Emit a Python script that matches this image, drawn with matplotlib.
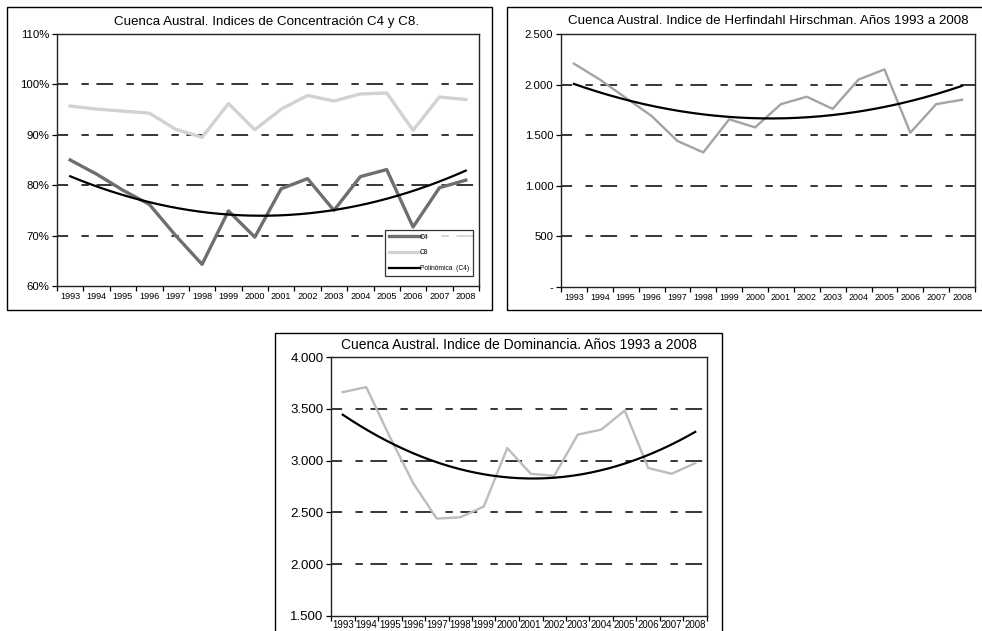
import numpy as np
import matplotlib
matplotlib.use("Agg")
import matplotlib.pyplot as plt
from matplotlib.patches import Rectangle
from matplotlib.ticker import FuncFormatter, FixedLocator

plt.rcParams['font.family'] = ['Liberation Sans', 'DejaVu Sans']
plt.rcParams['lines.scale_dashes'] = False

years = [str(y) for y in range(1993, 2009)]

# Concentration ratios (%)
c4 = [85.0, 82.2, 79.0, 76.2, 70.0, 64.3, 74.9, 69.7, 79.3, 81.3, 75.0, 81.7, 83.1, 71.7, 79.5, 81.0]
c8 = [95.7, 95.1, 94.7, 94.3, 91.1, 89.5, 96.2, 91.0, 95.1, 97.8, 96.7, 98.1, 98.3, 90.9, 97.5, 97.0]

# Herfindahl-Hirschman index
hhi = [2207, 2050, 1870, 1690, 1443, 1330, 1657, 1577, 1807, 1880, 1760, 2050, 2150, 1525, 1807, 1850]

# Dominance index
dom = [3661, 3709, 3230, 2782, 2440, 2453, 2556, 3121, 2873, 2853, 3251, 3299, 3483, 2928, 2873, 2976]

W, H = 982, 631
fig = plt.figure(figsize=(W / 100, H / 100), dpi=100)

GRID_STYLE = (4, (12, 9.6, 5.3, 5.5))


def box(x0, y0, x1, y1):
    """Axes rectangle from pixel coordinates (origin at top-left)."""
    return [x0 / W, (H - y1) / H, (x1 - x0) / W, (y1 - y0) / H]


def frame(x0, y0, x1, y1):
    r = Rectangle((x0 / W, (H - y1) / H), (x1 - x0) / W, (y1 - y0) / H,
                  transform=fig.transFigure, fill=False, edgecolor='black',
                  linewidth=1.0, zorder=0)
    fig.add_artist(r)


def trend(values, ax):
    x = np.arange(len(values))
    coefs = np.polyfit(x, values, 2)
    xf = np.linspace(0, len(values) - 1, 200)
    return ax.plot(xf, np.polyval(coefs, xf), color='black', linewidth=1.6,
                   zorder=4)[0]


def style_axes(ax, ymin, ymax, step, grid_vals, fmt, ylab_size, xlab_size):
    n = len(years)
    ax.set_xlim(-0.5, n - 0.5)
    ax.set_ylim(ymin, ymax)
    ax.set_xticks(np.arange(n))
    ax.set_xticklabels(years, fontsize=xlab_size)
    ax.xaxis.set_minor_locator(FixedLocator(np.arange(-0.5, n, 1.0)))
    ax.tick_params(axis='x', which='major', length=0, pad=4)
    ax.tick_params(axis='x', which='minor', length=3.5, width=0.9, direction='out')
    ax.set_yticks(np.arange(ymin, ymax + step / 2, step))
    ax.yaxis.set_major_formatter(FuncFormatter(fmt))
    ax.tick_params(axis='y', length=3.5, width=0.9, pad=2, labelsize=ylab_size)
    for s in ax.spines.values():
        s.set_color('#222222')
        s.set_linewidth(1.0)
    for g in grid_vals:
        ax.axhline(g, color='black', linewidth=1.1, linestyle=GRID_STYLE, zorder=1)


def thousands(v, _pos):
    if v == 0:
        return '-'
    return f"{int(round(v)):,}".replace(',', '.')


x = np.arange(len(years))

# --- Chart 1: C4 / C8 concentration ---
frame(7, 7, 492, 310)
ax1 = fig.add_axes(box(57, 34, 479, 286))
style_axes(ax1, 60, 110, 10, [70, 80, 90, 100],
           lambda v, p: f"{int(round(v))}%", 8.2, 6.6)
l_c4, = ax1.plot(x, c4, color='#6f6f6f', linewidth=2.4, zorder=3)
l_c8, = ax1.plot(x, c8, color='#d2d2d2', linewidth=2.4, zorder=3)
l_tr = trend(c4, ax1)
fig.text(267 / W, (H - 22) / H, 'Cuenca Austral. Indices de Concentración C4 y C8.',
         ha='center', va='center', fontsize=9.6)
leg = ax1.legend([l_c4, l_c8, l_tr], ['C4', 'C8', 'Polinómica  (C4)'],
                 loc='lower right', bbox_to_anchor=(0.985, 0.04), fontsize=4.8,
                 frameon=True, fancybox=False, edgecolor='black',
                 handlelength=4.6, handletextpad=0.0, borderpad=0.6,
                 labelspacing=1.3, borderaxespad=0)
leg.get_frame().set_linewidth(0.9)

# --- Chart 2: Herfindahl-Hirschman ---
frame(507, 7, 995, 310)
ax2 = fig.add_axes(box(561, 34, 975, 287))
style_axes(ax2, 0, 2500, 500, [500, 1000, 1500, 2000], thousands, 8.2, 6.4)
ax2.plot(x, hhi, color='#a3a3a3', linewidth=1.7, zorder=3)
trend(hhi, ax2)
fig.text(768 / W, (H - 21) / H,
         'Cuenca Austral. Indice de Herfindahl Hirschman. Años 1993 a 2008',
         ha='center', va='center', fontsize=9.6)

# --- Chart 3: Dominance ---
frame(275, 333, 722, 645)
ax3 = fig.add_axes(box(331, 357, 707, 616))
style_axes(ax3, 1500, 4000, 500, [2000, 2500, 3000, 3500], thousands, 9.5, 6.9)
ax3.tick_params(axis='x', which='major', pad=3)
ax3.plot(x, dom, color='#bcbcbc', linewidth=1.7, zorder=3)
trend(dom, ax3)
fig.text(519 / W, (H - 345) / H,
         'Cuenca Austral. Indice de Dominancia. Años 1993 a 2008',
         ha='center', va='center', fontsize=10)

fig.savefig('out.png', dpi=100)
